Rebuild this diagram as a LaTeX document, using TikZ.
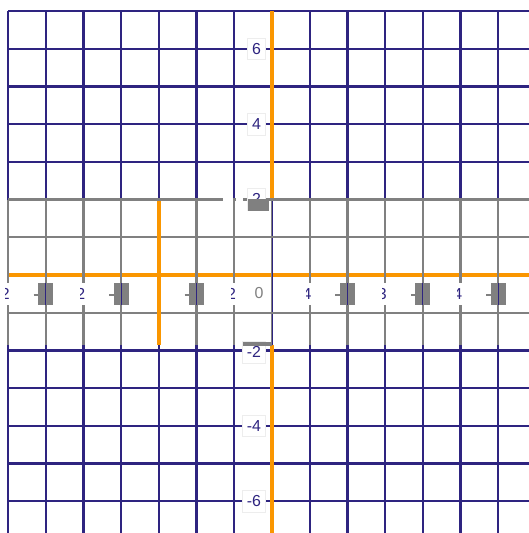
\documentclass[tikz,border=0pt]{standalone}
\usepackage{fontspec}
\setmainfont{Liberation Sans}
\usetikzlibrary{positioning}
\definecolor{GRnavy}{RGB}{46,36,128}
\definecolor{GRgrey}{RGB}{128,128,128}
\definecolor{GRorange}{RGB}{250,150,0}

\begin{document}
\begin{tikzpicture}[
      navy/.style={GRnavy,line width=1.7pt},
      bandline/.style={GRgrey,line width=1.7pt},
      axis/.style={GRorange,line width=2.6pt},
      ylab/.style={fill=white,draw=black!7,text=GRnavy,font=\fontsize{12}{12}\selectfont,
        inner xsep=3.5pt,minimum height=0.58cm,anchor=east},
      blot/.style={fill=GRgrey,draw=none,minimum width=0.4cm,minimum height=0.58cm,inner sep=0pt}
    ]
    \useasboundingbox (-7.215,-6.843) rectangle (6.79,7.294);
    % navy grid
    \draw[navy] (-7,-6.95) grid (6.95,7);
    \draw[axis] (0,7) -- (0,2);
    \draw[axis] (0,-1.857) -- (0,-6.95);
    % grey band
    \fill[white] (-7.3,-1.857) rectangle (7,2);
    \draw[axis] (-7,0) -- (6.95,0);
    \foreach \x in {-7,...,6}
      \draw[bandline] (\x,2) -- (\x,-1.857);
    \draw[GRnavy,line width=0.6pt] (0,2) -- (0,-1.857);
    \foreach \y in {2,1,-1}
      \draw[bandline] (-7,\y) -- (6.95,\y);
    \fill[white] (-1.3,1.92) rectangle (-1.04,2.08);
    \fill[white] (-0.96,1.92) rectangle (-0.78,2.08);
    \draw[axis] (-3,1.95) -- (-3,-1.857);
    % x labels
    \foreach \x [count=\i] in {-6,-4,-2,2,4,6} {
      \draw[GRgrey,line width=1pt] (\x-0.32,-0.53) -- (\x-0.2,-0.53);
      \node[blot] (xblot\i) at (\x,-0.5) {};
      \draw[GRnavy,line width=0.6pt] (\x,-0.21) -- (\x,-0.79);
    }
    \foreach \x/\d [count=\i] in {-7/2,-5/2,-1/2,1/4,3/3,5/4} {
      \fill[white] (\x-0.12,-0.22) rectangle (\x+0.06,-0.8);
      \begin{scope}
        \clip (\x-0.08,-0.22) rectangle (\x+0.04,-0.8);
        \node[text=GRnavy,font=\fontsize{12}{12}\selectfont,anchor=east,inner sep=0pt]
          (xpart\i) at (\x+0.05,-0.5) {\d};
      \end{scope}
    }
    \node[text=GRgrey,font=\fontsize{12}{12}\selectfont] (yzero) at (-0.345,-0.48) {0};
    % y labels
    \node[ylab] (ysix) at (-0.16,6) {6};
    \node[ylab] (yfour) at (-0.16,4) {4};
    \node[ylab] (ytwo) at (-0.16,2.02) {2};
    \node[fill=GRgrey,minimum width=0.56cm,minimum height=0.3cm,inner sep=0pt] (ytwoblot) at (-0.37,1.86) {};
    \node[ylab] (ymtwo) at (-0.16,-2.04) {-2};
    \fill[GRgrey] (-0.77,-1.79) rectangle (0,-1.87);
    \node[ylab] (ymfour) at (-0.16,-4) {-4};
    \node[ylab] (ymsix) at (-0.16,-6) {-6};
  \end{tikzpicture}
\end{document}
